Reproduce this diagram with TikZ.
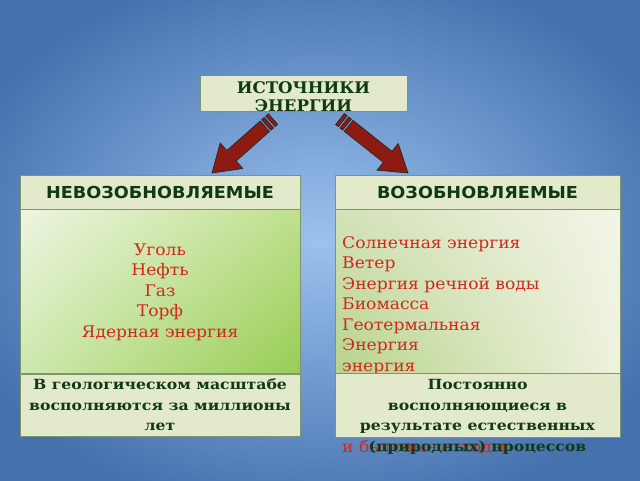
\documentclass[tikz,border=0pt]{standalone}
\usepackage{fontspec}
\setmainfont{DejaVu Serif}
\setsansfont{DejaVu Sans}
\newfontfamily\boldwide[FakeStretch=1.12]{DejaVu Serif Bold}
\newfontfamily\itemfont[FakeStretch=1.07]{DejaVu Serif}
\newfontfamily\headfont[FakeStretch=1.07]{DejaVu Sans Bold}
\newfontfamily\topfont[FakeStretch=1.04]{DejaVu Serif Bold}
\usetikzlibrary{calc,shadings}
\definecolor{bgout}{HTML}{4571AF}
\definecolor{bgin}{HTML}{9CC2EE}
\definecolor{boxfill}{HTML}{E3EACB}
\definecolor{boxline}{HTML}{7E9670}
\definecolor{dgreen}{HTML}{0F3A14}
\definecolor{itemred}{HTML}{D0281C}
\definecolor{arrowred}{HTML}{8E1B12}
\definecolor{lul}{HTML}{EEF5E2}
\definecolor{lur}{HTML}{BFE08E}
\definecolor{lll}{HTML}{CFE8AE}
\definecolor{llr}{HTML}{98CD55}
\definecolor{rul}{HTML}{D3E2B8}
\definecolor{rll}{HTML}{B7D38B}
\definecolor{rur}{HTML}{F3F5E8}
\definecolor{rlr}{HTML}{EEF2DE}
\begin{document}
\begin{tikzpicture}[x=1pt,y=-1pt,
  box/.style={draw=boxline, line width=0.8pt, fill=boxfill},
  headtext/.style={font=\headfont\fontsize{16.5}{18}\selectfont, text=dgreen},
  boldtext/.style={font=\boldwide\fontsize{14}{20.5}\selectfont, text=dgreen, align=center},
  items/.style={font=\itemfont\fontsize{16}{20.5}\selectfont, text=itemred},
  arr/.style={draw=black!85, line width=0.7pt, fill=arrowred}]
\useasboundingbox (0,0) rectangle (640,480);
\shade[inner color=bgin, outer color=bgout] (-60,-40) rectangle (700,520);

% top box
\node[box, minimum width=207pt, minimum height=36pt, inner sep=0pt] (src) at (303.5,93) {};
\node[font=\topfont\fontsize{16}{18}\selectfont, text=dgreen, align=center, inner sep=0pt] (srct) at (303.5,97) {ИСТОЧНИКИ\\ЭНЕРГИИ};

% left column
\node[box, minimum width=280pt, minimum height=34pt, inner sep=0pt, headtext] (lh) at (160,192) {НЕВОЗОБНОВЛЯЕМЫЕ};
\shade[upper left=lul, upper right=lur, lower left=lll, lower right=llr]
  (20,209) rectangle (300,373);
\draw[boxline, line width=0.8pt] (20,209) rectangle (300,373);
\node[items, align=center] (lm) at (160,292) {Уголь\\Нефть\\Газ\\Торф\\Ядерная энергия};
\node[box, minimum width=280pt, minimum height=62pt, inner sep=0pt, boldtext] (lb) at (160,405) {В геологическом масштабе\\восполняются за миллионы\\лет};

% right column
\node[box, minimum width=285pt, minimum height=34pt, inner sep=0pt, headtext] (rh) at (477.5,192) {ВОЗОБНОВЛЯЕМЫЕ};
\shade[upper left=rul, lower left=rll, upper right=rur, lower right=rlr]
  (335,209) rectangle (620,373);
\draw[boxline, line width=0.8pt] (335,209) rectangle (620,373);
\node[items, align=left, anchor=north west, inner sep=0pt] (rm) at (342,236) {Солнечная энергия\\Ветер\\Энергия речной воды\\Биомасса\\Геотермальная\\Энергия\\энергия};
\node[items, anchor=west, inner sep=0pt] (rl) at (342,447) {и бытовые отходы};
\node[box, minimum width=285pt, minimum height=64pt, inner sep=0pt] (rb) at (477.5,405) {};
\node[boldtext, inner sep=0pt] (rbt) at (477.5,417) {Постоянно\\восполняющиеся в\\результате естественных\\(природных) процессов};

% arrows
\coordinate (la) at (273,119);
\coordinate (lt) at (212,173);
\coordinate (ra) at (340,119);
\coordinate (rt) at (408,173);
\newcommand\energyarrow[2]{%
  \path coordinate (s0) at (#1)
    coordinate (s1) at ($(#1)!3.5pt!(#2)$)
    coordinate (s2) at ($(#1)!5.5pt!(#2)$)
    coordinate (s3) at ($(#1)!9pt!(#2)$)
    coordinate (s4) at ($(#1)!11pt!(#2)$)
    coordinate (hb) at ($(#2)!26pt!(#1)$);
  \foreach \a/\b in {s0/s1,s2/s3} {
    \filldraw[arr] ($(\a)!7pt!90:(#2)$) -- ($(\a)!7pt!-90:(#2)$) -- ($(\b)!7pt!-90:(#2)$) -- ($(\b)!7pt!90:(#2)$) -- cycle;
  }
  \filldraw[arr] ($(s4)!7pt!90:(#2)$) -- ($(hb)!7pt!90:(#2)$) -- ($(hb)!17pt!90:(#2)$) -- (#2)
     -- ($(hb)!17pt!-90:(#2)$) -- ($(hb)!7pt!-90:(#2)$) -- ($(s4)!7pt!-90:(#2)$) -- cycle;
}
\energyarrow{la}{lt}
\energyarrow{ra}{rt}
\end{tikzpicture}
\end{document}
